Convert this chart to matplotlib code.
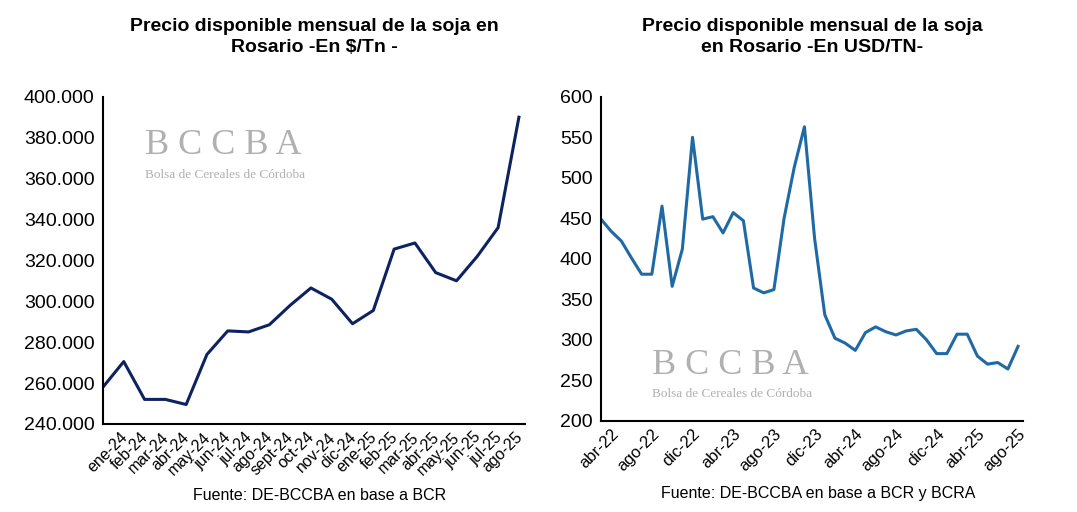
import matplotlib
matplotlib.use("Agg")
import matplotlib.pyplot as plt
import numpy as np

plt.rcParams["font.family"] = "Liberation Sans"

ars_values = [258000, 270500, 252000, 252000, 249500, 274000, 285500, 285000, 288500, 298000,
              306500, 301000, 289000, 295500, 325500, 328500, 314000, 310000, 322000, 336000, 390000]
ars_labels = ["ene-24", "feb-24", "mar-24", "abr-24", "may-24", "jun-24", "jul-24", "ago-24", "sept-24",
              "oct-24", "nov-24", "dic-24", "ene-25", "feb-25", "mar-25", "abr-25", "may-25", "jun-25",
              "jul-25", "ago-25"]
usd_values = [449, 434, 422, 401, 381, 381, 465, 366, 412, 550, 449, 452, 432, 457, 447, 364, 358, 362,
              450, 513, 563, 425, 331, 302, 296, 287, 309, 316, 310, 306, 311, 313, 300, 283, 283, 307,
              307, 280, 270, 272, 264, 292]
usd_labels = ["abr-22", "ago-22", "dic-22", "abr-23", "ago-23", "dic-23", "abr-24", "ago-24", "dic-24",
              "abr-25", "ago-25"]

fig = plt.figure(figsize=(10.77, 5.12), dpi=100)
fig.patch.set_facecolor("white")

def style(ax):
    for s in ["top", "right"]:
        ax.spines[s].set_visible(False)
    for s in ["left", "bottom"]:
        ax.spines[s].set_linewidth(1.5)
        ax.spines[s].set_color("black")
    ax.tick_params(length=0, labelsize=14, pad=6)

def watermark(ax, x, y):
    ax.text(x, y, "B C C B A", transform=ax.transAxes, fontsize=26, color="#b0b0b0",
            family="Liberation Serif", ha="left", va="bottom", zorder=0)
    ax.text(x, y - 0.02, "Bolsa de Cereales de Córdoba", transform=ax.transAxes, fontsize=9.5,
            color="#b0b0b0", family="Liberation Serif", ha="left", va="top", zorder=0)

# Left
ax1 = fig.add_axes([0.0956, 0.172, 0.392, 0.639])
x1 = np.arange(len(ars_values))
ax1.plot(x1, ars_values, color="#0d2260", lw=2.2)
ax1.set_xlim(0, len(ars_values) - 1 + 0.3)
ax1.set_ylim(240000, 400000)
ax1.set_yticks(np.arange(240000, 400001, 20000))
ax1.set_yticklabels([f"{v:,}".replace(",", ".") for v in range(240000, 400001, 20000)])
ax1.set_xticks(np.arange(1, len(ars_labels) + 1) - 0.2)
ax1.set_xticklabels(ars_labels, rotation=45, ha="right", rotation_mode="anchor")
style(ax1)
ax1.tick_params(axis="x", labelsize=11.5, pad=4)
watermark(ax1, 0.1, 0.8)
ax1.set_title("Precio disponible mensual de la soja en\nRosario -En $/Tn -", fontsize=14,
              fontweight="bold", pad=32, linespacing=1.3)

# Right
ax2 = fig.add_axes([0.558, 0.178, 0.392, 0.633])
x2 = np.arange(len(usd_values))
ax2.plot(x2, usd_values, color="#1f6aa5", lw=2.2)
ax2.set_xlim(0, len(usd_values) - 1 + 0.5)
ax2.set_ylim(200, 600)
ax2.set_yticks(np.arange(200, 601, 50))
ax2.set_xticks(np.arange(1, len(usd_values), 4))
ax2.set_xticklabels(usd_labels, rotation=45, ha="right", rotation_mode="anchor")
style(ax2)
ax2.tick_params(axis="x", labelsize=12, pad=4)
watermark(ax2, 0.12, 0.12)
ax2.set_title("Precio disponible mensual de la soja\nen Rosario -En USD/TN-", fontsize=14,
              fontweight="bold", pad=32, linespacing=1.3)

fig.text(0.297, 0.023, "Fuente: DE-BCCBA en base a BCR", ha="center", fontsize=11.5)
fig.text(0.76, 0.027, "Fuente: DE-BCCBA en base a BCR y BCRA", ha="center", fontsize=11.5)

fig.savefig("out.png", dpi=100)
